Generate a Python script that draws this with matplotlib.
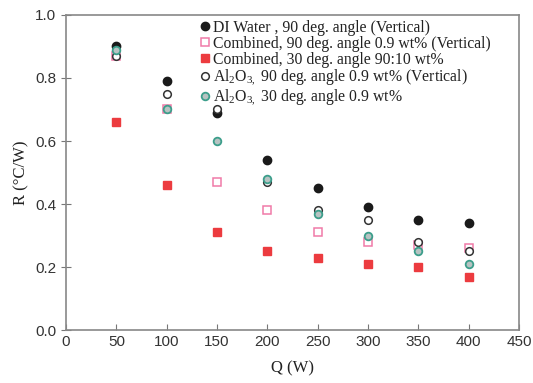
import numpy as np
import matplotlib
matplotlib.use('Agg')
from matplotlib import pyplot as plt

plt.rcParams['mathtext.fontset'] = 'custom'
plt.rcParams['mathtext.rm'] = 'Liberation Serif'
plt.rcParams['mathtext.it'] = 'Liberation Serif:italic'

# heat input (W)
Q = [50, 100, 150, 200, 250, 300, 350, 400]

# thermal resistance (C/W)
di_water_90 = [0.90, 0.79, 0.69, 0.54, 0.45, 0.39, 0.35, 0.34]
combined_90 = [0.87, 0.70, 0.47, 0.38, 0.31, 0.28, 0.27, 0.26]
combined_30 = [0.66, 0.46, 0.31, 0.25, 0.23, 0.21, 0.20, 0.17]
al2o3_90 = [0.87, 0.75, 0.70, 0.47, 0.38, 0.35, 0.28, 0.25]
al2o3_30 = [0.89, 0.70, 0.60, 0.48, 0.37, 0.30, 0.25, 0.21]

labels = ['DI Water , 90 deg. angle (Vertical)',
          'Combined, 90 deg. angle 0.9 wt% (Vertical)',
          'Combined, 30 deg. angle 90:10 wt%',
          r'Al$_2$O$_{3,}$ 90 deg. angle 0.9 wt% (Vertical)',
          r'Al$_2$O$_{3,}$ 30 deg. angle 0.9 wt%']

fig = plt.figure(figsize=(5.33, 3.83), dpi=100)
ax = fig.add_axes([0.124, 0.138, 0.850, 0.823])

ax.plot(Q, di_water_90, 'o', ms=6, color='#1a1a1a', label=labels[0])
ax.plot(Q, combined_90, 's', ms=5.5, mfc='white', mec='#f07aa8', mew=1.1, label=labels[1])
ax.plot(Q, combined_30, 's', ms=5.5, color='#ec3b3f', label=labels[2])
ax.plot(Q, al2o3_90, 'o', ms=5.5, mfc='white', mec='#333333', mew=1.1, label=labels[3])
ax.plot(Q, al2o3_30, 'o', ms=5.5, mfc='#b7c3c2', mec='#3c9e8b', mew=1.3, label=labels[4])

ax.set_xlim(0, 450)
ax.set_ylim(0, 1.0)
ax.set_xticks(np.arange(0, 451, 50))
ax.set_yticks(np.arange(0, 1.01, 0.2))
ax.set_yticklabels(['%.1f' % v for v in np.arange(0, 1.01, 0.2)])
ax.tick_params(direction='in', length=4, color='#777777', labelsize=11,
               labelcolor='#333333', top=False, right=False)
ax.tick_params(axis='y', direction='inout', length=7)
for lab in ax.get_xticklabels() + ax.get_yticklabels():
    lab.set_family('Liberation Sans')
for s in ax.spines.values():
    s.set_color('#888888')
    s.set_linewidth(1.2)

ax.set_xlabel('Q (W)', family='Liberation Serif', fontsize=12, color='#222222', labelpad=8)
ax.set_ylabel('R (\u00b0C/W)', family='Liberation Serif', fontsize=12, color='#222222', labelpad=4)

leg = ax.legend(loc='upper left', bbox_to_anchor=(0.29, 0.995), frameon=False,
                prop={'family': 'Liberation Serif', 'size': 11.3}, handlelength=0.6,
                handletextpad=0.2, labelspacing=0.0, borderpad=0.2, borderaxespad=0)
for t in leg.get_texts():
    t.set_color('#222222')

plt.savefig('out.png', dpi=100)
